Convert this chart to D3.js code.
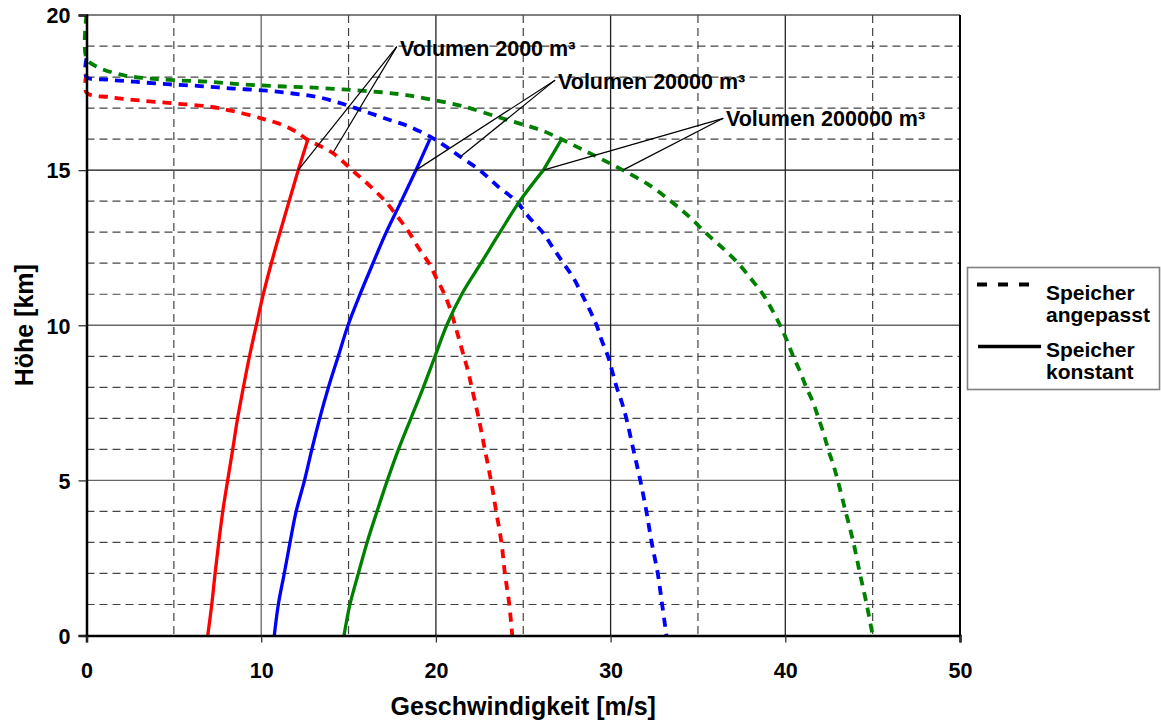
<!DOCTYPE html>
<html>
<head>
<meta charset="utf-8">
<script src="https://cdn.jsdelivr.net/npm/d3@7"></script>
<style>
  body { margin: 0; background: #fff; }
  text { font-family: Arial, "Liberation Sans", sans-serif; font-weight: bold; fill: #000; }
</style>
</head>
<body>
<svg id="chart" width="1161" height="722"></svg>
<script>
// Höhenstufen [km] für die Kurven mit konstantem Speicher
const hoehenKonstant = [0, 1, 2, 3, 4, 5, 6, 7, 8, 9, 10, 11, 12, 13, 14, 15, 16];

// Geschwindigkeit [m/s] bei konstantem Speicher
const konstant2000   = [6.94, 7.17, 7.36, 7.57, 7.8, 8.08, 8.37, 8.65, 8.98, 9.33, 9.72, 10.12, 10.58, 11.08, 11.6, 12.12, 12.68];
const konstant20000  = [10.75, 10.98, 11.32, 11.65, 12.0, 12.48, 12.9, 13.35, 13.85, 14.41, 14.97, 15.66, 16.4, 17.16, 18.02, 18.86, 19.66];
const konstant200000 = [14.74, 15.08, 15.56, 16.06, 16.63, 17.22, 17.86, 18.57, 19.28, 19.95, 20.62, 21.48, 22.58, 23.67, 24.8, 26.15, 27.2];

// Angepasster Speicher: Paare [Geschwindigkeit m/s, Höhe km]
const angepasst2000 = [
  [0, 18.1], [0, 17.5], [1.35, 17.35], [3, 17.25], [5, 17.15], [7, 17.05], [8.4, 16.9], [10, 16.67],
  [11, 16.5], [11.9, 16.27], [12.6, 16.0], [14.1, 15.55], [15.2, 15.0], [16.2, 14.5], [17.1, 14.0],
  [17.8, 13.5], [18.4, 13.05], [19.0, 12.5], [19.6, 12.0], [20.0, 11.55], [20.45, 11.05], [20.8, 10.55],
  [21.1, 10.0], [21.35, 9.5], [21.6, 9.0], [21.85, 8.5], [22.05, 8.0], [22.45, 7.0], [22.8, 6.0],
  [23.15, 5.0], [23.45, 4.0], [23.75, 3.0], [23.95, 2.0], [24.2, 1.0], [24.37, 0]
];
const angepasst20000 = [
  [0, 18.6], [0, 18.0], [1.15, 17.92], [2.7, 17.85], [4.6, 17.77], [6.5, 17.71], [8.4, 17.63], [10.3, 17.56],
  [11.8, 17.47], [13.2, 17.36], [14.7, 17.13], [16.0, 16.88], [17.4, 16.61], [18.4, 16.42], [19.7, 16.07],
  [20.6, 15.75], [21.4, 15.43], [22.5, 15.0], [23.6, 14.45], [24.6, 14.0], [25.3, 13.5], [26.1, 13.0],
  [26.7, 12.5], [27.3, 12.0], [27.9, 11.5], [28.35, 11.0], [28.8, 10.5], [29.2, 10.0], [29.5, 9.5],
  [29.85, 9.0], [30.1, 8.5], [30.35, 8.0], [30.65, 7.5], [30.9, 7.0], [31.3, 6.0], [31.7, 5.0],
  [32.05, 4.0], [32.35, 3.0], [32.7, 2.0], [32.95, 1.0], [33.2, 0]
];
const angepasst200000 = [
  [0, 20.0], [0, 18.6], [0.6, 18.33], [2.1, 18.06], [3.45, 17.96], [5, 17.9], [6.9, 17.85], [8.8, 17.77],
  [10.7, 17.71], [12.6, 17.67], [14.7, 17.6], [16.9, 17.51], [18.3, 17.42], [19.85, 17.26], [21.6, 17.05],
  [23.5, 16.72], [24.8, 16.5], [26.0, 16.29], [27.1, 16.02], [28.25, 15.7], [29.4, 15.38], [30.7, 15.0],
  [32.26, 14.5], [33.45, 14.0], [34.5, 13.5], [35.5, 12.95], [36.45, 12.47], [37.3, 12.0], [38.1, 11.45],
  [38.75, 10.97], [39.2, 10.54], [39.7, 10.0], [40.1, 9.5], [40.45, 9.0], [40.85, 8.5], [41.2, 8.0],
  [41.6, 7.5], [41.9, 7.0], [42.2, 6.5], [42.45, 6.0], [42.75, 5.5], [43.0, 5.0], [43.45, 4.0],
  [43.9, 3.0], [44.27, 2.0], [44.66, 1.0], [45.0, 0]
];

// Achsenteilung
const xTicks = [0, 10, 20, 30, 40, 50];
const yTicks = [0, 5, 10, 15, 20];
const xMinor = [5, 15, 25, 35, 45];
const yMinor = [1, 2, 3, 4, 6, 7, 8, 9, 11, 12, 13, 14, 16, 17, 18, 19];

// Beschriftungen
const volumenLabels = ["Volumen 2000 m³", "Volumen 20000 m³", "Volumen 200000 m³"];
const legendLabels = [["Speicher", "angepasst"], ["Speicher", "konstant"]];

const farben = ["#ff0000", "#0000ff", "#008000"];

const svg = d3.select("#chart");
const plot = { left: 86.5, right: 960, top: 15, bottom: 635.5 };

const x = d3.scaleLinear().domain([0, 50]).range([plot.left, plot.right]);
const y = d3.scaleLinear().domain([0, 20]).range([plot.bottom, plot.top]);

// Gitternetz
const grid = svg.append("g");
grid.selectAll(".hmin").data(yMinor).join("line")
  .attr("x1", plot.left).attr("x2", plot.right)
  .attr("y1", d => y(d)).attr("y2", d => y(d))
  .attr("stroke", "#444").attr("stroke-width", 1.2).attr("stroke-dasharray", "8,5");
grid.selectAll(".vmin").data(xMinor).join("line")
  .attr("y1", plot.top).attr("y2", plot.bottom)
  .attr("x1", d => x(d)).attr("x2", d => x(d))
  .attr("stroke", "#444").attr("stroke-width", 1.2).attr("stroke-dasharray", "8,5");
grid.selectAll(".hmaj").data([5, 10, 15]).join("line")
  .attr("x1", plot.left).attr("x2", plot.right)
  .attr("y1", d => y(d)).attr("y2", d => y(d))
  .attr("stroke", d => d === 15 ? "#111" : "#666").attr("stroke-width", 1.3);
grid.selectAll(".vmaj").data([10, 20, 30, 40]).join("line")
  .attr("y1", plot.top).attr("y2", plot.bottom)
  .attr("x1", d => x(d)).attr("x2", d => x(d))
  .attr("stroke", d => d === 10 ? "#666" : "#222").attr("stroke-width", 1.3);
// oberer Rahmen
grid.append("line").attr("x1", plot.left).attr("x2", plot.right)
  .attr("y1", y(20)).attr("y2", y(20)).attr("stroke", "#555").attr("stroke-width", 1.5);

// Kurven
const glatt = d3.line().x(d => x(d[0])).y(d => y(d[1])).curve(d3.curveCatmullRom.alpha(0.5));
const series = svg.append("g");

[angepasst2000, angepasst20000, angepasst200000].forEach((data, i) => {
  series.append("path").datum(data)
    .attr("d", glatt)
    .attr("fill", "none").attr("stroke", farben[i])
    .attr("stroke-width", 3.8).attr("stroke-dasharray", "9,7");
});
[konstant2000, konstant20000, konstant200000].forEach((vals, i) => {
  const pts = vals.map((v, k) => [v, hoehenKonstant[k]]);
  // bis 15 km glatt, darüber gerades Endstück
  const unten = pts.slice(0, 16);
  const oben = pts[16];
  series.append("path")
    .attr("d", glatt(unten) + `L${x(oben[0])},${y(oben[1])}`)
    .attr("fill", "none").attr("stroke", farben[i])
    .attr("stroke-width", 3.3).attr("stroke-linejoin", "round");
});

// Beschriftungen mit Hinweislinien
const annot = [
  { text: [17.95, 18.69], knick: [17.76, 18.98], solid: konstant2000, dash: angepasst2000[11] },
  { text: [26.99, 17.63], knick: [26.82, 17.9], solid: konstant20000, dash: angepasst20000[16] },
  { text: [36.6, 16.43], knick: [36.45, 16.67], solid: konstant200000, dash: angepasst200000[21] }
];
const ann = svg.append("g");
annot.forEach((a, i) => {
  const ziele = [[a.solid[15], hoehenKonstant[15]], a.dash];
  ziele.forEach(p => {
    ann.append("line")
      .attr("x1", x(a.knick[0])).attr("y1", y(a.knick[1]))
      .attr("x2", x(p[0])).attr("y2", y(p[1]))
      .attr("stroke", "#000").attr("stroke-width", 1.2);
  });
  ann.append("text")
    .attr("x", x(a.text[0])).attr("y", y(a.text[1]))
    .attr("font-size", 21.5)
    .text(volumenLabels[i]);
});

// Achsen
const yAxis = svg.append("g").attr("transform", `translate(${plot.left},0)`)
  .call(d3.axisLeft(y).tickValues(yTicks).tickSize(8).tickPadding(8).tickFormat(d3.format("d")));
const xAxis = svg.append("g").attr("transform", `translate(0,${plot.bottom})`)
  .call(d3.axisBottom(x).tickValues(xTicks).tickSize(7).tickPadding(20).tickFormat(d3.format("d")));
[yAxis, xAxis].forEach(g => {
  g.select(".domain").attr("stroke", "#000").attr("stroke-width", 2.5);
  g.selectAll(".tick line").attr("stroke", "#333").attr("stroke-width", 1.3);
  g.selectAll(".tick text").attr("font-size", 21.5).attr("font-family", "Arial, 'Liberation Sans', sans-serif")
    .attr("font-weight", "bold").attr("fill", "#000");
});
yAxis.selectAll(".tick text").attr("dy", "0.36em");
// rechter Rahmen
svg.append("line").attr("x1", plot.right).attr("x2", plot.right)
  .attr("y1", plot.top).attr("y2", plot.bottom)
  .attr("stroke", "#000").attr("stroke-width", 2);

// Achsentitel
svg.append("text")
  .attr("x", (plot.left + plot.right) / 2).attr("y", 715)
  .attr("text-anchor", "middle").attr("font-size", 25)
  .text("Geschwindigkeit [m/s]");
svg.append("text")
  .attr("transform", `translate(33,${(plot.top + plot.bottom) / 2}) rotate(-90)`)
  .attr("text-anchor", "middle").attr("font-size", 25)
  .text("Höhe [km]");

// Legende
const leg = svg.append("g");
leg.append("rect").attr("x", 967.5).attr("y", 267.5).attr("width", 192).attr("height", 122)
  .attr("fill", "#fff").attr("stroke", "#808080").attr("stroke-width", 1.6);
leg.append("line").attr("x1", 977).attr("x2", 1029).attr("y1", 284.5).attr("y2", 284.5)
  .attr("stroke", "#000").attr("stroke-width", 3.8).attr("stroke-dasharray", "10,11");
leg.append("line").attr("x1", 978).attr("x2", 1041).attr("y1", 346.5).attr("y2", 346.5)
  .attr("stroke", "#000").attr("stroke-width", 3.3);
legendLabels.forEach((lines, i) => {
  const base = i === 0 ? 300 : 356.5;
  lines.forEach((t, k) => {
    leg.append("text").attr("x", 1046).attr("y", base + k * 22)
      .attr("font-size", 21).text(t);
  });
});
</script>
</body>
</html>
